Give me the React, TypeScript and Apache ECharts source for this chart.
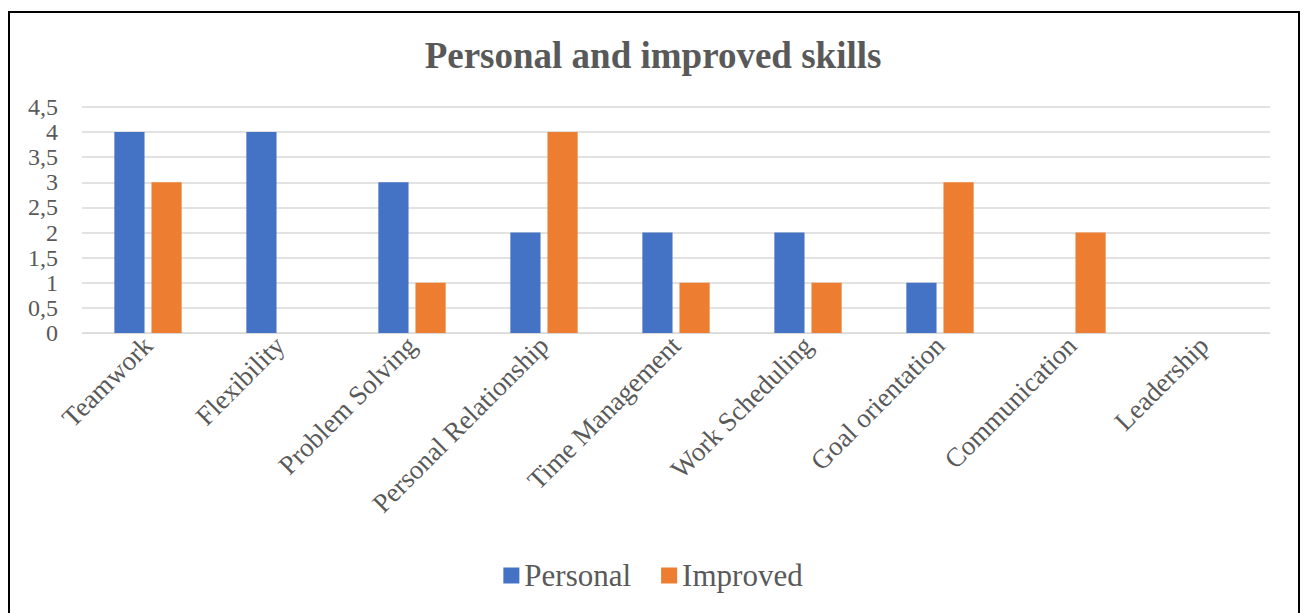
import React, { useEffect, useRef } from "react";
import * as echarts from "echarts";

const categories = [
  "Teamwork",
  "Flexibility",
  "Problem Solving",
  "Personal Relationship",
  "Time Management",
  "Work Scheduling",
  "Goal orientation",
  "Communication",
  "Leadership",
];
const personal = [4, 4, 3, 2, 2, 2, 1, 0, 0];
const improved = [3, 0, 1, 4, 1, 1, 3, 2, 0];

const FONT = "'Liberation Serif', 'Times New Roman', serif";
const GRAY = "#595959";

export default function App() {
  const ref = useRef<HTMLDivElement>(null);
  useEffect(() => {
    const chart = echarts.init(ref.current!, undefined, { renderer: "svg" });
    chart.setOption({
      animation: false,
      textStyle: { fontFamily: FONT },
      title: {
        text: "Personal and improved skills",
        left: "center",
        top: 32,
        textStyle: { fontFamily: FONT, fontSize: 37, fontWeight: "bold", color: GRAY },
      },
      legend: {
        bottom: 17,
        left: "center",
        itemWidth: 16,
        itemHeight: 16,
        itemGap: 30,
        icon: "rect",
        textStyle: { fontFamily: FONT, fontSize: 31, color: GRAY },
        data: ["Personal", "Improved"],
      },
      grid: { left: 82, right: 36, top: 107, bottom: 280, containLabel: false },
      xAxis: {
        type: "category",
        data: categories,
        axisLine: { lineStyle: { color: "#d9d9d9" } },
        axisTick: { show: false },
        axisLabel: { rotate: 45, fontFamily: FONT, fontSize: 27, color: GRAY, interval: 0, margin: 8 },
      },
      yAxis: {
        type: "value",
        min: 0,
        max: 4.5,
        interval: 0.5,
        axisLine: { show: false },
        axisTick: { show: false },
        splitLine: { lineStyle: { color: "#d9d9d9", width: 1.5 } },
        axisLabel: {
          fontFamily: FONT,
          fontSize: 24,
          lineHeight: 24,
          color: GRAY,
          margin: 24,
          showMinLabel: true,
          showMaxLabel: true,
          hideOverlap: false,
          formatter: (v: number) => String(v).replace(".", ","),
        },
      },
      series: [
        {
          name: "Personal",
          type: "bar",
          data: personal,
          itemStyle: { color: "#4472c4" },
          barGap: "23%",
          barCategoryGap: "49%",
        },
        {
          name: "Improved",
          type: "bar",
          data: improved,
          itemStyle: { color: "#ed7d31" },
        },
      ],
      graphic: [
        {
          type: "rect",
          shape: { x: 9, y: 12, width: 1290, height: 620 },
          style: { fill: "none", stroke: "#000", lineWidth: 2 },
          silent: true,
        },
      ],
    });
    return () => chart.dispose();
  }, []);
  return (
    <div
      ref={ref}
      style={{ position: "absolute", left: 0, top: 0, width: 1306, height: 613, background: "#fff" }}
    />
  );
}
